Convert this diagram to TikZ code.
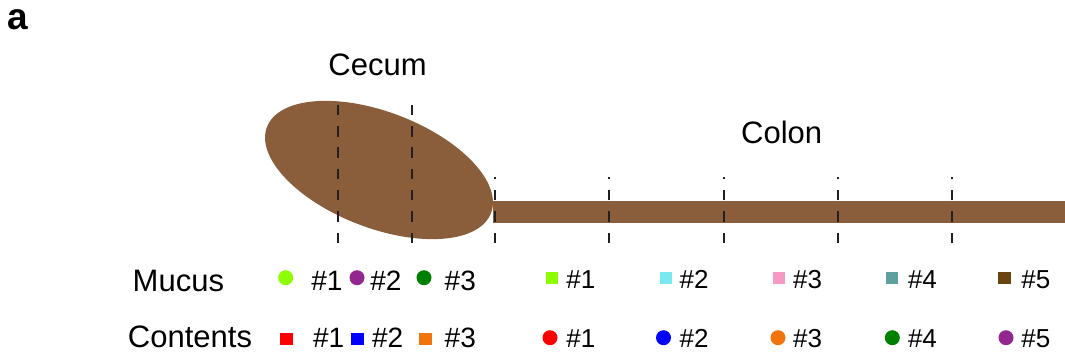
\documentclass[tikz,border=0pt]{standalone}
\usepackage{fontspec}
\setmainfont{Liberation Sans}
\usetikzlibrary{shapes.geometric}

\definecolor{gut}{RGB}{138,93,59}
\definecolor{sectline}{RGB}{35,31,32}
\definecolor{mlime}{RGB}{142,255,0}
\definecolor{mpurple}{RGB}{146,40,143}
\definecolor{mgreen}{RGB}{0,128,0}
\definecolor{corange}{RGB}{242,116,12}
\definecolor{mcyan}{RGB}{122,232,240}
\definecolor{mpink}{RGB}{245,155,195}
\definecolor{mteal}{RGB}{95,160,158}
\definecolor{mbrown}{RGB}{105,68,14}

\begin{document}
\begin{tikzpicture}[x=1pt,y=-1pt,
  title/.style={inner sep=0, font=\fontsize{31}{37}\selectfont},
  rowlabel/.style={inner sep=0, anchor=base, font=\fontsize{31}{37}\selectfont},
  tagL/.style={inner sep=0, anchor=base west, font=\fontsize{28}{33}\selectfont},
  tagR/.style={inner sep=0, anchor=base west, font=\fontsize{26}{31}\selectfont},
  dotmark/.style={circle, inner sep=0, minimum size=15pt, fill=#1},
  sqmark/.style={rectangle, inner sep=0, minimum size=12.5pt, fill=#1},
  sect/.style={draw=sectline, line width=2pt, dash pattern=on 10.5pt off 10.8pt},
]
\useasboundingbox (0,0) rectangle (1065,356);

% panel letter
\node[inner sep=0, anchor=base west, font=\fontsize{37}{44}\selectfont\bfseries] (panel) at (6.8,29.5) {a};

% colon tube and cecum pouch
\node[rectangle, fill=gut, inner sep=0, anchor=west, minimum width=572pt, minimum height=21.7pt] (colon) at (493,211.85) {};
\node[ellipse, fill=gut, inner sep=0, minimum width=240pt, minimum height=116pt, rotate=-21] (cecum) at (379,170) {};

% section titles
\node[title, anchor=base] (cecumlbl) at (377.5,75) {Cecum};
\node[title, anchor=base] (colonlbl) at (781.7,143.3) {Colon};

% section boundaries (dashes laid out from the bottom end)
\foreach \n/\x in {1/338.3, 2/412.3} {
  \coordinate (cb\n) at (\x,243);
  \coordinate (ct\n) at (\x,104);
  \draw[sect] (cb\n) -- (ct\n);
}
\foreach \n/\x in {1/495, 2/609.3, 3/723.6, 4/838, 5/952.3} {
  \coordinate (kb\n) at (\x,243);
  \coordinate (kt\n) at (\x,177);
  \draw[sect] (kb\n) -- (kt\n);
}

% row labels
\node[rowlabel] (mucus) at (178.4,291) {Mucus};
\node[rowlabel] (contents) at (190,347) {Contents};

% cecum legend: mucus
\node[dotmark=mlime]   (cm1) at (285.7,277.7) {};
\node[tagL] (cm1t) at (311.2,290) {\#1};
\node[dotmark=mpurple] (cm2) at (357,277.7) {};
\node[tagL] (cm2t) at (370.2,290) {\#2};
\node[dotmark=mgreen]  (cm3) at (424,277.7) {};
\node[tagL] (cm3t) at (444.5,290) {\#3};

% cecum legend: contents
\node[sqmark=red]     (cc1) at (286.5,339) {};
\node[tagL] (cc1t) at (312.8,347) {\#1};
\node[sqmark=blue]    (cc2) at (357.3,339) {};
\node[tagL] (cc2t) at (371.8,347) {\#2};
\node[sqmark=corange] (cc3) at (425.5,339) {};
\node[tagL] (cc3t) at (444.5,347) {\#3};

% colon legend: mucus
\node[sqmark=mlime]  (km1) at (552.2,277.8) {};
\node[tagR] (km1t) at (566.2,288.5) {\#1};
\node[sqmark=mcyan]  (km2) at (666,277.8) {};
\node[tagR] (km2t) at (679.5,288.5) {\#2};
\node[sqmark=mpink]  (km3) at (778.8,277.8) {};
\node[tagR] (km3t) at (793,288.5) {\#3};
\node[sqmark=mteal]  (km4) at (892,277.8) {};
\node[tagR] (km4t) at (907.8,288.5) {\#4};
\node[sqmark=mbrown] (km5) at (1004.7,277.8) {};
\node[tagR] (km5t) at (1021.2,288.5) {\#5};

% colon legend: contents
\node[dotmark=red]     (kc1) at (550,337.7) {};
\node[tagR] (kc1t) at (566.2,347) {\#1};
\node[dotmark=blue]    (kc2) at (663.5,337.7) {};
\node[tagR] (kc2t) at (679.5,347) {\#2};
\node[dotmark=corange] (kc3) at (778,337.7) {};
\node[tagR] (kc3t) at (793,347) {\#3};
\node[dotmark=mgreen]  (kc4) at (892.3,337.7) {};
\node[tagR] (kc4t) at (907.8,347) {\#4};
\node[dotmark=mpurple] (kc5) at (1006,337.7) {};
\node[tagR] (kc5t) at (1021.2,347) {\#5};
\end{tikzpicture}
\end{document}
